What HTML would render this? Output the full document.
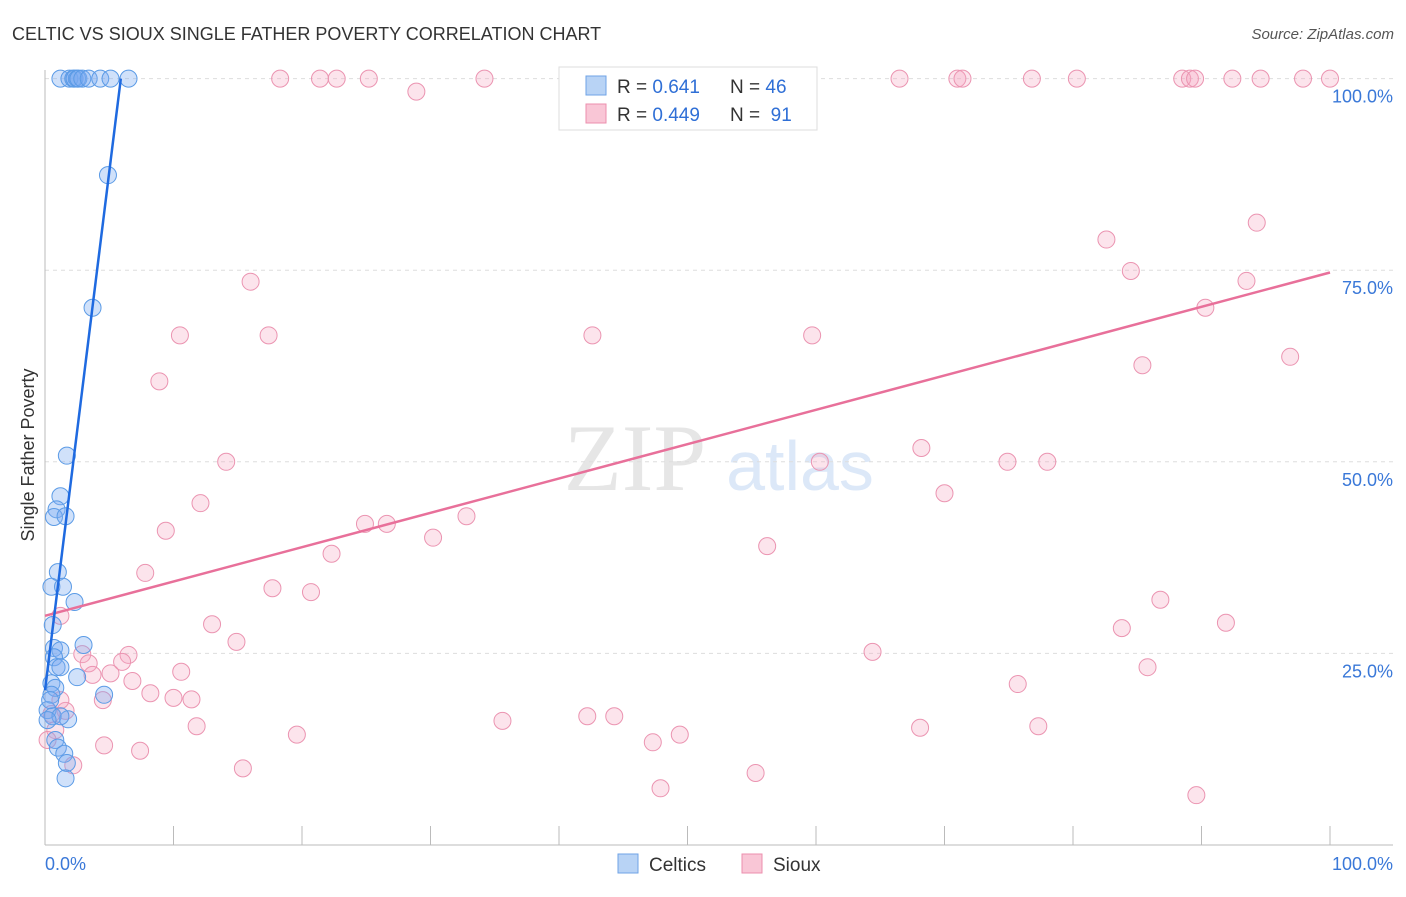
<!DOCTYPE html>
<html><head><meta charset="utf-8"><style>
body{margin:0;background:#fff;font-family:"Liberation Sans",sans-serif}
</style></head><body>
<svg width="1406" height="892" xmlns="http://www.w3.org/2000/svg" id="chart" font-family="Liberation Sans, sans-serif">
<text x="12" y="40" font-size="18" fill="#333">CELTIC VS SIOUX SINGLE FATHER POVERTY CORRELATION CHART</text>
<text x="1394" y="39" font-size="15" fill="#555" font-style="italic" text-anchor="end">Source: ZipAtlas.com</text>
<text x="635" y="490" font-size="95" fill="#e6e6e6" font-family="Liberation Serif, serif" text-anchor="middle">ZIP</text>
<text x="800" y="490" font-size="70" fill="#dce8f8" text-anchor="middle">atlas</text>
<g id="grid"></g>
<g id="axes"></g>
<g id="pts"></g>
<g id="lines"></g>
<text x="34" y="455" font-size="18" fill="#333" transform="rotate(-90 34 455)" text-anchor="middle">Single Father Poverty</text>
<g>
<rect x="559" y="67" width="258" height="63" fill="#fff" stroke="#ddd"/>
<rect x="586" y="76" width="20" height="19" fill="#b8d3f5" stroke="#6fa3e6"/>
<rect x="586" y="104" width="20" height="19" fill="#f9c6d6" stroke="#ec8fae"/>
<text x="617" y="93" font-size="19" fill="#333">R = <tspan fill="#2f6fd6">0.641</tspan></text>
<text x="730" y="93" font-size="19" fill="#333">N = <tspan fill="#2f6fd6">46</tspan></text>
<text x="617" y="121" font-size="19" fill="#333">R = <tspan fill="#2f6fd6">0.449</tspan></text>
<text x="730" y="121" font-size="19" fill="#333">N = <tspan fill="#2f6fd6">&#160;91</tspan></text>
</g>
<g>
<rect x="618" y="854" width="20" height="19" fill="#b8d3f5" stroke="#6fa3e6"/>
<text x="649" y="871" font-size="19" fill="#333">Celtics</text>
<rect x="742" y="854" width="20" height="19" fill="#f9c6d6" stroke="#ec8fae"/>
<text x="773" y="871" font-size="19" fill="#333">Sioux</text>
</g>
</svg>
<script>
const celticsX=[1.2,1.9,2.2,2.3,2.5,2.6,2.9,3.4,4.3,5.1,6.5,4.9,3.7,1.7,1.2,0.9,0.7,1.6,0.5,1.0,1.4,2.3,0.6,0.7,3.0,1.2,0.7,0.9,1.2,2.5,0.5,0.8,0.5,4.6,0.2,0.6,1.8,1.2,0.8,1.0,1.5,1.7,1.6,0.4,0.2];
const celticsY=[100,100,100,100,100,100,100,100,100,100,100,87.4,70.1,50.8,45.5,43.8,42.8,42.9,33.7,35.6,33.7,31.7,28.7,25.7,26.1,25.4,24.5,23.2,23.2,21.9,21.1,20.5,19.6,19.6,17.6,16.8,16.4,16.8,13.7,12.7,11.9,10.7,8.7,18.9,16.3];
const siouxX=[18.3,21.4,22.7,25.2,34.2,46.7,51.8,66.5,71.0,71.4,76.8,80.3,88.5,89.1,89.5,92.4,94.6,97.9,100,28.9,82.6,84.5,94.3,16.0,93.5,90.3,10.5,17.4,42.6,59.7,8.9,85.4,96.9,14.1,60.3,68.2,74.9,78.0,70.0,12.1,9.4,24.9,26.6,32.8,30.2,56.2,22.3,7.8,17.7,20.7,86.8,1.2,13.0,83.8,91.9,14.9,2.9,6.5,64.4,3.4,6.0,10.6,5.1,6.8,3.7,8.2,10.0,11.4,4.5,85.8,75.7,11.8,35.6,42.2,44.3,68.1,77.3,19.6,49.4,47.3,4.6,7.4,15.4,55.3,2.2,47.9,89.6,1.6,0.5,0.8,0.2,1.2];
const siouxY=[100,100,100,100,100,100,100,100,100,100,100,100,100,100,100,100,100,100,100,98.3,79.0,74.9,81.2,73.5,73.6,70.1,66.5,66.5,66.5,66.5,60.5,62.6,63.7,50.0,50.0,51.8,50.0,50.0,45.9,44.6,41.0,41.9,41.9,42.9,40.1,39.0,38.0,35.5,33.5,33.0,32.0,29.9,28.8,28.3,29.0,26.5,24.9,24.8,25.2,23.7,23.9,22.6,22.4,21.4,22.2,19.8,19.2,19.0,18.9,23.2,21.0,15.5,16.2,16.8,16.8,15.3,15.5,14.4,14.4,13.4,13.0,12.3,10.0,9.4,10.4,7.4,6.5,17.5,17.1,15.0,13.7,18.9];
const celticsTrend=[[0,20.2],[5.9,100]];
const siouxTrend=[[0,29.9],[100,74.7]];
const yTicks=[25,50,75,100];
const yTickLabels=["25.0%","50.0%","75.0%","100.0%"];
const NS="http://www.w3.org/2000/svg";
const X=v=>45+v*12.85, Y=v=>845-v*7.664;
function mk(t,a,p){const e=document.createElementNS(NS,t);for(const k in a)e.setAttribute(k,a[k]);document.getElementById(p).appendChild(e);return e;}
yTicks.forEach((t,i)=>{
 const g=mk('line',{x1:45,x2:1393,y1:Y(t),y2:Y(t),stroke:'#ddd','stroke-dasharray':'4,4'},'grid');
 
 
 const l=mk('text',{x:1393,y:Y(t)+24,'font-size':18,fill:'#3a78d8','text-anchor':'end'},'axes');
 l.textContent=yTickLabels[i];
 
 
});
const ax=mk('line',{x1:45,x2:45,y1:70,y2:845,stroke:'#bbb'},'axes');


const bx=mk('line',{x1:45,x2:1393,y1:845,y2:845,stroke:'#bbb'},'axes');


for(let k=1;k<=10;k++){const tk=mk('line',{x1:X(k*10),x2:X(k*10),y1:826,y2:845,stroke:'#bbb'},'axes');
 
 }
[["0.0%",45,'start'],["100.0%",1393,'end']].forEach(([s,x,a])=>{const t=mk('text',{x:x,y:870,'font-size':18,fill:'#3a78d8','text-anchor':a},'axes');t.textContent=s;
 
 });
siouxX.forEach((v,i)=>{const c=mk('circle',{cx:X(v),cy:Y(siouxY[i]),r:8.5,fill:'rgba(245,165,192,0.3)',stroke:'#eb94b1','stroke-width':1},'pts');
 
 });
celticsX.forEach((v,i)=>{const c=mk('circle',{cx:X(v),cy:Y(celticsY[i]),r:8.5,fill:'rgba(120,170,240,0.35)',stroke:'#5b9be6','stroke-width':1},'pts');
 
 });
const l1=mk('line',{x1:X(siouxTrend[0][0]),y1:Y(siouxTrend[0][1]),x2:X(siouxTrend[1][0]),y2:Y(siouxTrend[1][1]),stroke:'#e8709a','stroke-width':2.5},'lines');


const l2=mk('line',{x1:X(celticsTrend[0][0]),y1:Y(celticsTrend[0][1]),x2:X(celticsTrend[1][0]),y2:Y(celticsTrend[1][1]),stroke:'#1f6ae0','stroke-width':2.5},'lines');


</script>
</body></html>
